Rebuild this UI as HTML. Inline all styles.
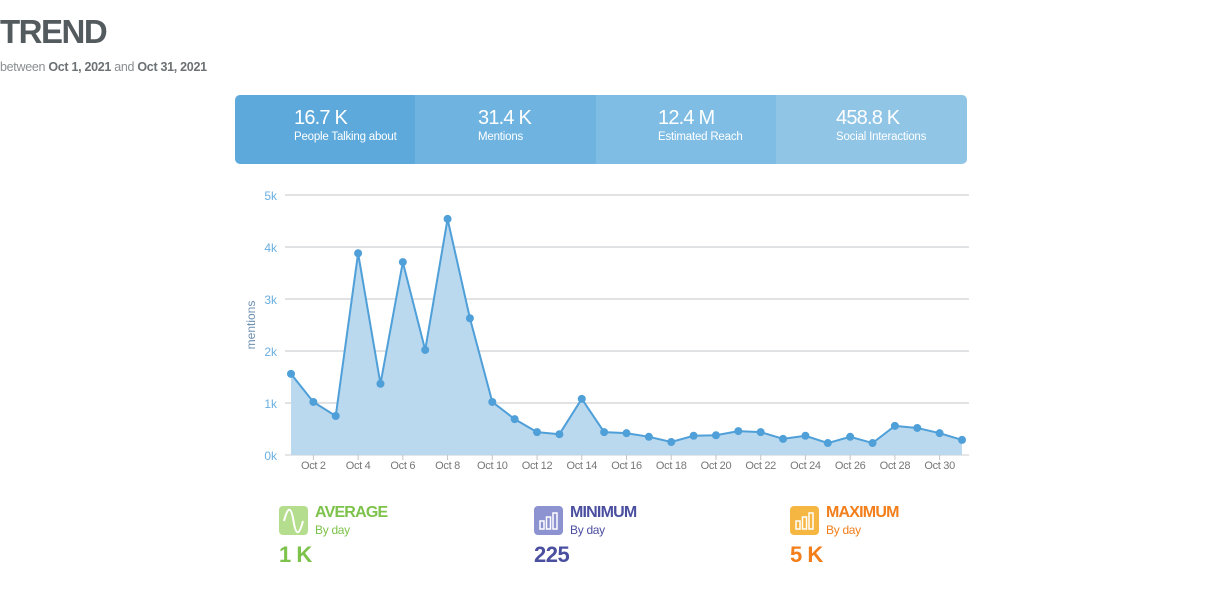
<!DOCTYPE html>
<html><head><meta charset="utf-8">
<style>
body{margin:0;width:1205px;height:612px;background:#fff;font-family:"Liberation Sans",sans-serif;position:relative;overflow:hidden}
.abs{position:absolute}
#title{left:0;top:13px;font-size:33px;font-weight:bold;color:#545b5e;letter-spacing:-1.5px}
#sub{left:0;top:60px;font-size:12.5px;color:#8a8f92;letter-spacing:-0.3px}
#sub b{color:#6b7174}
.seg{position:absolute;top:95px;height:69px;color:#fff}
.seg .v{position:absolute;top:12px;font-size:20px;letter-spacing:-0.8px}
.seg .l{position:absolute;top:36px;font-size:11.5px;white-space:nowrap;letter-spacing:-0.2px}
.st{position:absolute;top:506px;white-space:nowrap}
.st .ic{position:absolute;left:0;top:0;width:29px;height:29px;border-radius:4px}
.st .h{position:absolute;left:36px;top:-2px;font-size:16px;font-weight:bold;letter-spacing:-0.8px}
.st .s{position:absolute;left:36px;top:17px;font-size:12px;letter-spacing:-0.3px}
.st .n{position:absolute;left:0;top:36px;font-size:22px;font-weight:bold;letter-spacing:-0.5px}
</style></head><body>
<div id="title" class="abs">TREND</div>
<div id="sub" class="abs">between <b>Oct 1, 2021</b> and <b>Oct 31, 2021</b></div>

<div class="seg" style="left:235px;width:180px;background:#5da9dc;border-radius:5px 0 0 5px"><div class="v" style="left:59px">16.7 K</div><div class="l" style="left:59px">People Talking about</div></div>
<div class="seg" style="left:415px;width:181px;background:#6fb4e1"><div class="v" style="left:63px">31.4 K</div><div class="l" style="left:63px">Mentions</div></div>
<div class="seg" style="left:596px;width:180px;background:#7fbde5"><div class="v" style="left:62px">12.4 M</div><div class="l" style="left:62px">Estimated Reach</div></div>
<div class="seg" style="left:776px;width:191px;background:#91c5e6;border-radius:0 5px 5px 0"><div class="v" style="left:60px">458.8 K</div><div class="l" style="left:60px">Social Interactions</div></div>

<svg id="chart" class="abs" style="left:0;top:0" width="1205" height="612"></svg>

<div class="st" style="left:279px">
<div class="ic" style="background:#b5dd8e"><svg width="29" height="29"><path d="M5 15 C9 0,12 0,14.5 15 S20 30,24 15" stroke="#fff" stroke-width="2" fill="none"/></svg></div>
<div class="h" style="color:#7dc24b">AVERAGE</div><div class="s" style="color:#7dc24b">By day</div><div class="n" style="color:#7dc24b">1 K</div></div>
<div class="st" style="left:534px">
<div class="ic" style="background:#8c93d0"><svg width="29" height="29"><g fill="none" stroke="#fff" stroke-width="1.5"><rect x="6" y="15" width="4" height="8"/><rect x="12.5" y="11" width="4" height="12"/><rect x="19" y="7" width="4" height="16"/></g></svg></div>
<div class="h" style="color:#4b4fa0">MINIMUM</div><div class="s" style="color:#4b4fa0">By day</div><div class="n" style="color:#4b4fa0">225</div></div>
<div class="st" style="left:790px">
<div class="ic" style="background:#f5b642"><svg width="29" height="29"><g fill="none" stroke="#fff" stroke-width="1.5"><rect x="6" y="15" width="4" height="8"/><rect x="12.5" y="11" width="4" height="12"/><rect x="19" y="7" width="4" height="16"/></g></svg></div>
<div class="h" style="color:#f27f1b">MAXIMUM</div><div class="s" style="color:#f27f1b">By day</div><div class="n" style="color:#f27f1b">5 K</div></div>

<script>
const days=[1,2,3,4,5,6,7,8,9,10,11,12,13,14,15,16,17,18,19,20,21,22,23,24,25,26,27,28,29,30,31];
const mentions=[1.56,1.02,0.75,3.88,1.37,3.71,2.02,4.54,2.63,1.02,0.69,0.44,0.40,1.08,0.44,0.42,0.35,0.25,0.37,0.38,0.46,0.44,0.31,0.37,0.23,0.35,0.23,0.56,0.52,0.42,0.29];
const yTicks=[0,1,2,3,4,5];
const xTicks=[2,4,6,8,10,12,14,16,18,20,22,24,26,28,30];
const NS="http://www.w3.org/2000/svg";
const svg=document.getElementById('chart');
const X=d=>291+(d-1)*(962-291)/30;
const Y=v=>455-v*52;
function mk(t,a){const e=document.createElementNS(NS,t);for(const k in a)e.setAttribute(k,a[k]);svg.appendChild(e);return e;}
yTicks.forEach(v=>{
  const l=mk('line',{x1:285,x2:969,y1:Y(v),y2:Y(v),stroke:v===0?'#c8cdd1':'#c0c4c7','stroke-width':1});
  
  
  const t=mk('text',{x:277,y:Y(v)+5,'text-anchor':'end','font-size':12,fill:'#6aaee0','font-family':'Liberation Sans'});
  t.textContent=v+'k';
  
  
});
xTicks.forEach(d=>{
  const tk=mk('line',{x1:X(d),x2:X(d),y1:455,y2:460,stroke:'#c0c4c7'});
  
  
  const t=mk('text',{x:X(d),y:469,'text-anchor':'middle','font-size':11,fill:'#777','font-family':'Liberation Sans','letter-spacing':'-0.3'});
  t.textContent='Oct '+d;
  
  
});
const yt=mk('text',{x:0,y:0,transform:'translate(255,325) rotate(-90)','text-anchor':'middle','font-size':12,fill:'#6d8fb0','font-family':'Liberation Sans'});
yt.textContent='mentions';


let pts=days.map((d,i)=>X(d)+','+Y(mentions[i])).join(' ');
const area=mk('polygon',{points:X(days[0])+','+Y(0)+' '+pts+' '+X(days[days.length-1])+','+Y(0),fill:'#bad8ee'});


const line=mk('polyline',{points:pts,fill:'none',stroke:'#4f9fd8','stroke-width':2});


days.forEach((d,i)=>{
  const c=mk('circle',{cx:X(d),cy:Y(mentions[i]),r:4,fill:'#4f9fd8'});
  
  
});
</script>
</body></html>
